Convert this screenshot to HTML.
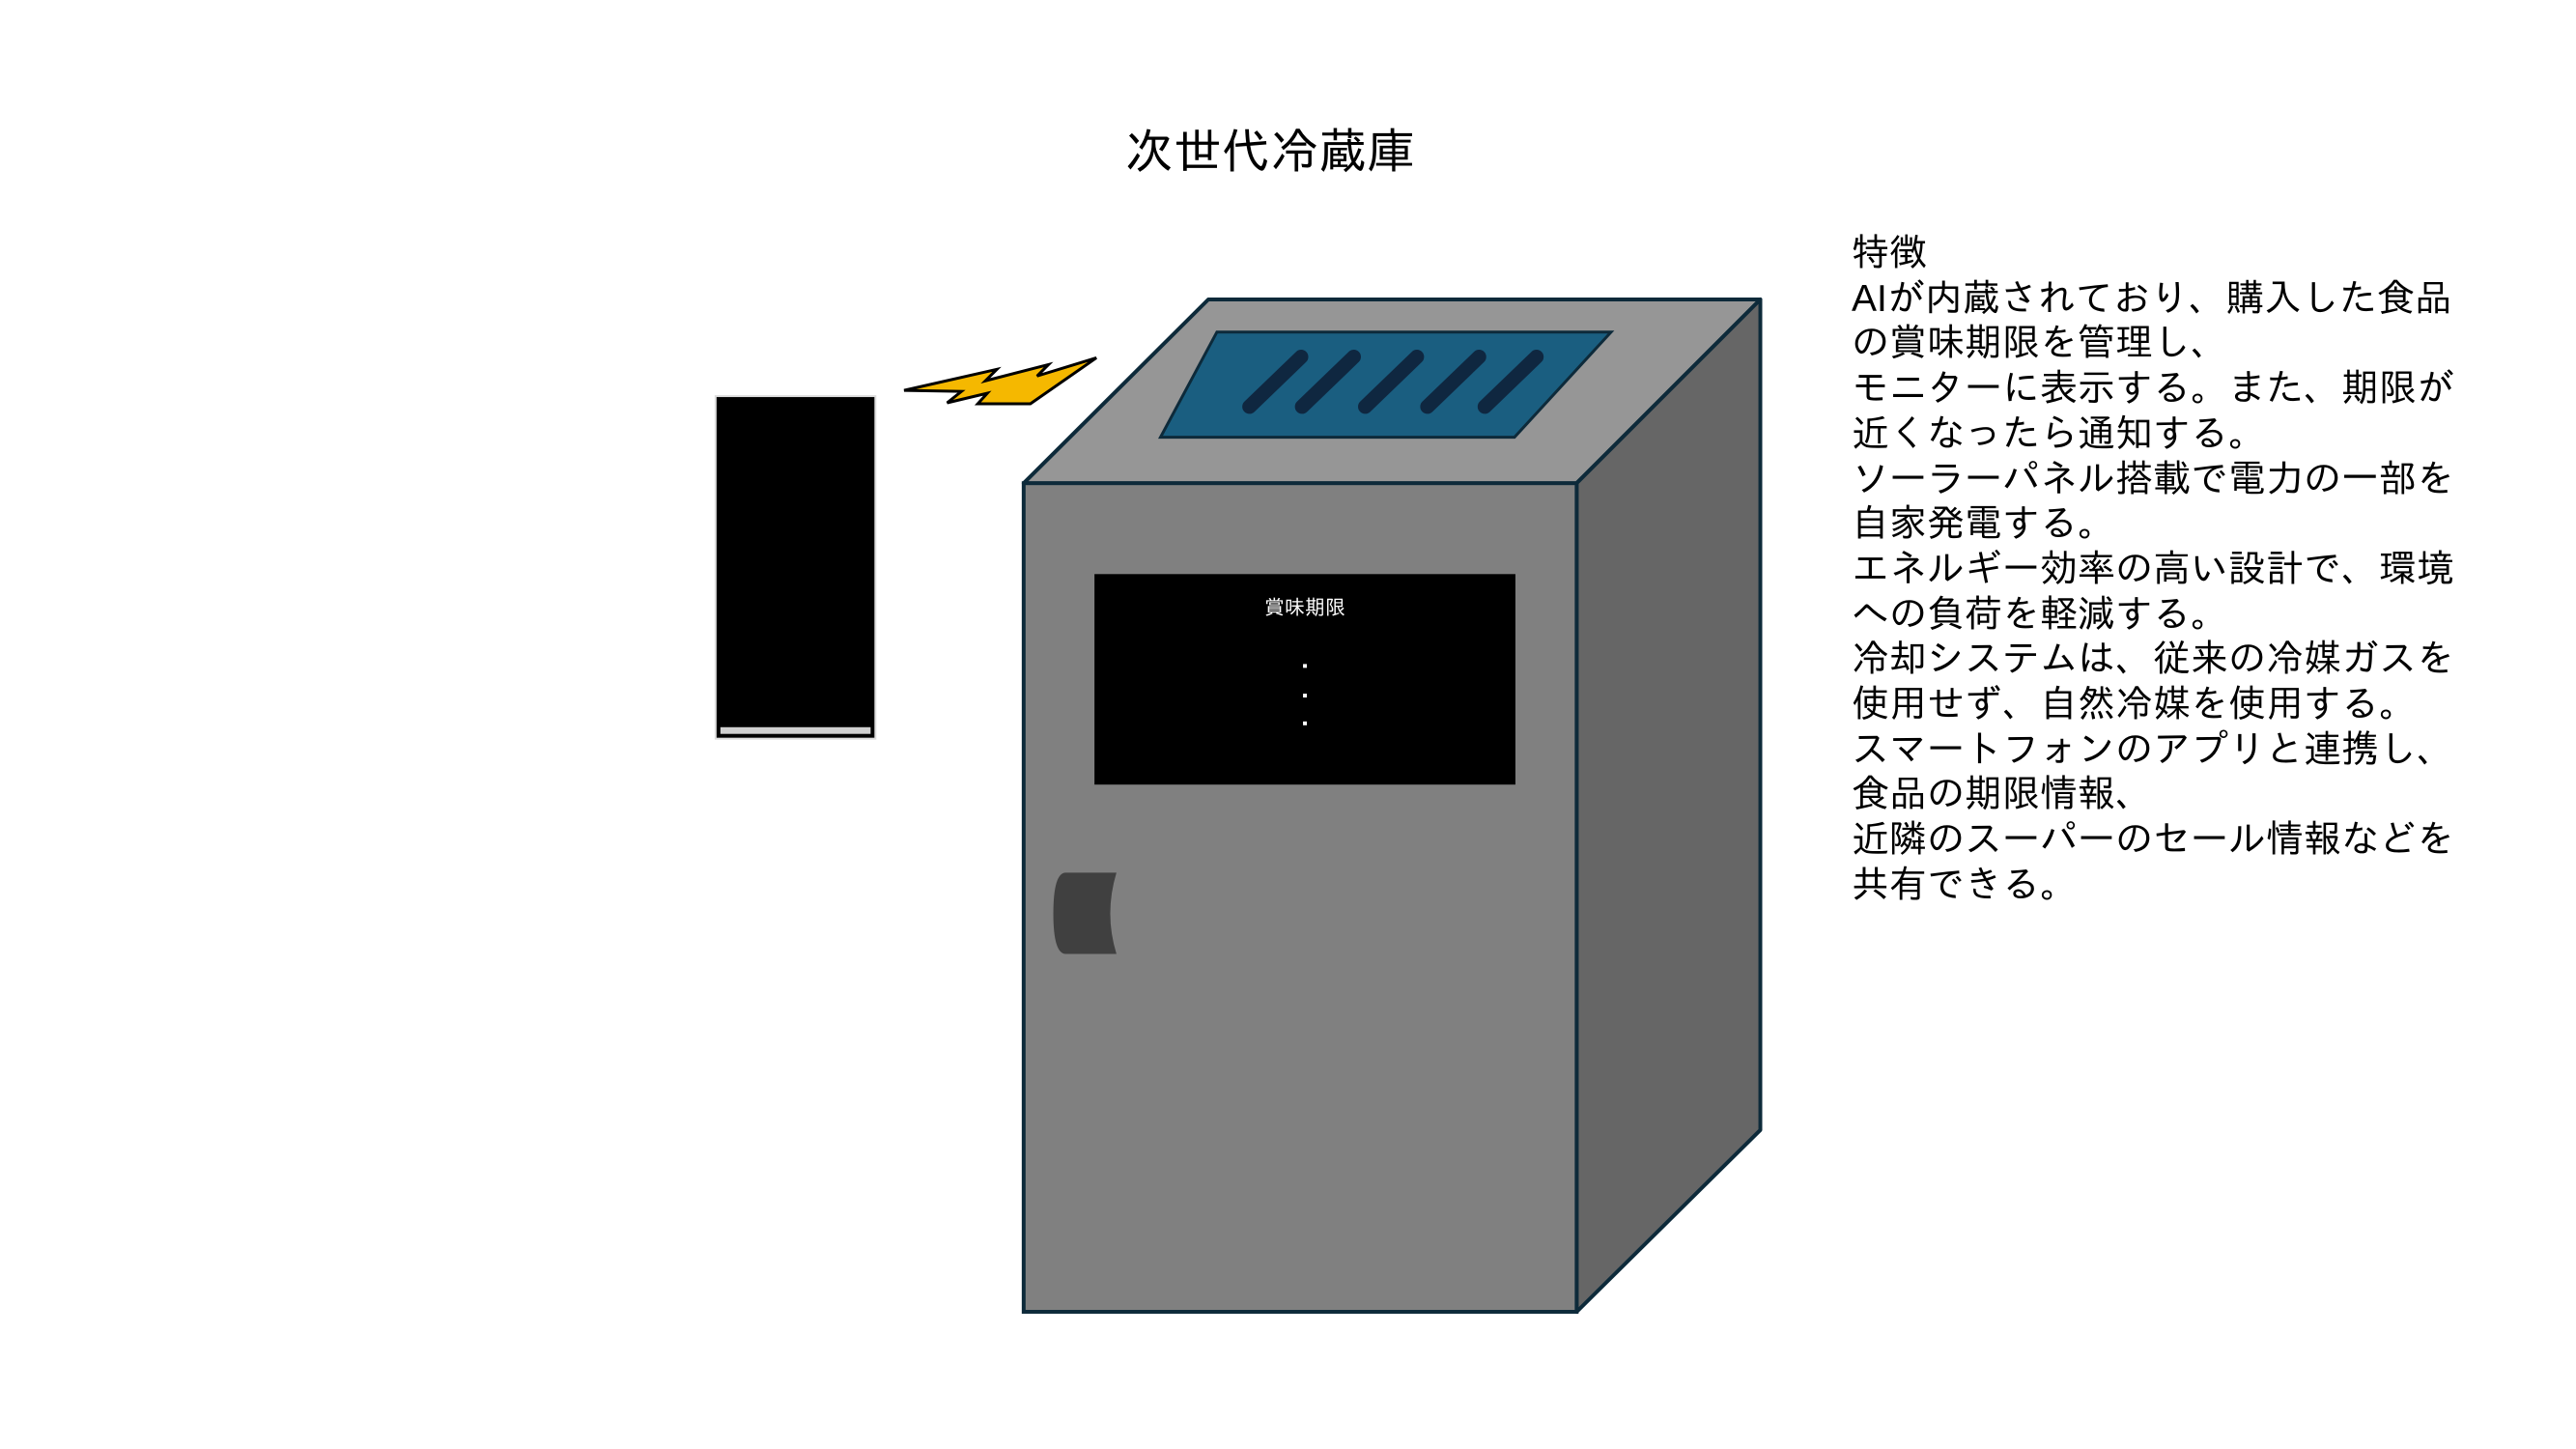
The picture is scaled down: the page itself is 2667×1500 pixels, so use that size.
<!DOCTYPE html>
<html><head><meta charset="utf-8"><style>
html,body{margin:0;padding:0;background:#fff;}
body{width:2667px;height:1500px;position:relative;overflow:hidden;}
.t{position:absolute;font-family:"Liberation Sans","IPAGothic","Noto Sans CJK JP",sans-serif;color:#000;}
</style></head><body>
<svg width="2667" height="1500" style="position:absolute;left:0;top:0">
 <g transform="scale(0.9905)">
  <rect x="748" y="414" width="167" height="358" fill="#000" stroke="#ddd" stroke-width="2"/>
  <rect x="753" y="760" width="157" height="7" fill="#d0d0d0"/>
  <polygon points="945,408 1042,386 1030,398 1096,381 1084,393 1146,374 1077,422 1022,422 1032,411 990,421 1005,409" fill="#f5b800" stroke="#000" stroke-width="3"/>
  <polygon points="1070,505 1263,313 1840,313 1648,505" fill="#969696" stroke="#0d2a3a" stroke-width="4" stroke-linejoin="round"/>
  <polygon points="1648,505 1840,313 1840,1181 1648,1371" fill="#666" stroke="#0d2a3a" stroke-width="4" stroke-linejoin="round"/>
  <rect x="1070" y="505" width="578" height="866" fill="#808080" stroke="#0d2a3a" stroke-width="4"/>
  <polygon points="1272,347 1684,347 1583,457 1213,457" fill="#1a5e80" stroke="#0d2a3a" stroke-width="3"/>
  <g stroke="#0f2740" stroke-width="15" stroke-linecap="round">
    <line x1="1306" y1="425" x2="1360" y2="373"/>
    <line x1="1361" y1="425" x2="1415" y2="373"/>
    <line x1="1427" y1="425" x2="1481" y2="373"/>
    <line x1="1492" y1="425" x2="1546" y2="373"/>
    <line x1="1552" y1="425" x2="1606" y2="373"/>
  </g>
  <rect x="1144" y="600" width="440" height="220" fill="#000"/>
  <rect x="1362" y="694" width="4" height="4" fill="#fff"/>
  <rect x="1362" y="725" width="4" height="4" fill="#fff"/>
  <rect x="1362" y="754" width="4" height="4" fill="#fff"/>
  <path d="M1114,912 L1167,912 Q1154,955 1167,997 L1114,997 Q1101,997 1101,955 Q1101,912 1114,912 Z" fill="#404040"/>
 </g>
</svg>
<div class="t" style="left:1115px;top:127px;width:400px;text-align:center;font-size:50px;line-height:60px;">次世代冷蔵庫</div>
<div class="t" style="left:1251px;top:616px;width:200px;text-align:center;font-size:21px;line-height:28px;color:#fff;">賞味期限</div>
<div class="t" style="left:1917px;top:240px;font-size:39px;line-height:46.7px;white-space:pre;">特徴
AIが内蔵されており、購入した食品
の賞味期限を管理し、
モニターに表示する。また、期限が
近くなったら通知する。
ソーラーパネル搭載で電力の一部を
自家発電する。
エネルギー効率の高い設計で、環境
への負荷を軽減する。
冷却システムは、従来の冷媒ガスを
使用せず、自然冷媒を使用する。
スマートフォンのアプリと連携し、
食品の期限情報、
近隣のスーパーのセール情報などを
共有できる。</div>
</body></html>
